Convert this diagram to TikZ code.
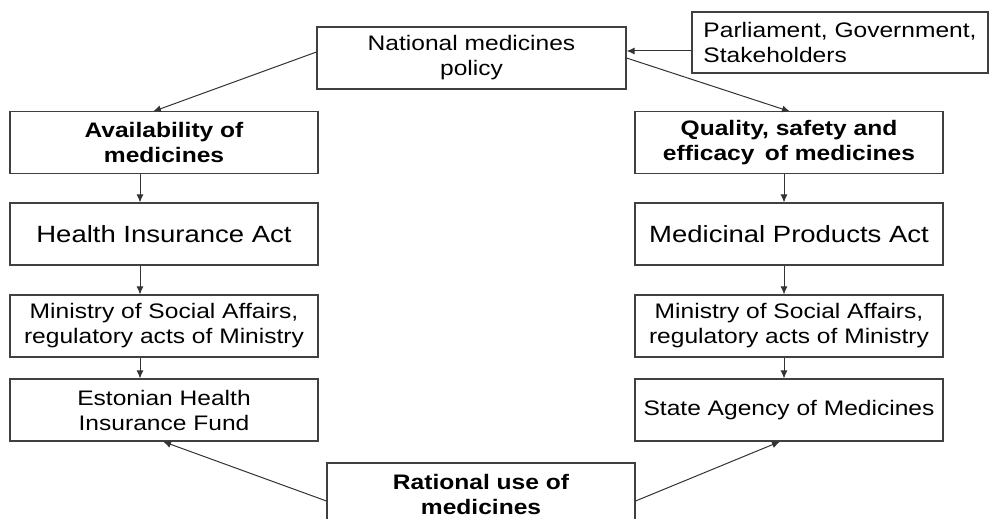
\documentclass[tikz,border=0pt]{standalone}
\usepackage{fontspec}
\setmainfont[FakeStretch=1.17]{Liberation Sans}
\usetikzlibrary{arrows.meta}
\begin{document}
\begin{tikzpicture}[x=1pt,y=-1pt,
  box/.style={draw=black!75, line width=1.1pt, minimum width=308pt, minimum height=62pt,
    inner sep=0pt, align=center, font=\fontsize{21}{25}\selectfont},
  boldbox/.style={box, font=\fontsize{21}{25}\selectfont\bfseries},
  bigbox/.style={box, font=\fontsize{23.5}{27}\selectfont},
  conn/.style={draw=black!80, line width=1pt, -{Latex[length=8pt,width=7pt]}}
]
\useasboundingbox (0,0) rectangle (990,519);
\fill[white] (0,0) rectangle (990,519);

\node[box, minimum width=309pt] (nmp) at (471.5,58) {National medicines\\policy};
\node[box, minimum width=296pt, minimum height=61pt, align=left] (parl) at (840,42.5) {Parliament, Government,\\Stakeholders};

\node[boldbox] (avail) at (164,142.5) {Availability of\\medicines};
\node[bigbox] (hia) at (164,234) {Health Insurance Act};
\node[box] (msal) at (164,326) {Ministry of Social Affairs,\\regulatory acts of Ministry};
\node[box] (ehif) at (164,410) {Estonian Health\\Insurance Fund};

\node[boldbox] (qual) at (789,142.5) {Quality, safety and\\efficacy\, of medicines};
\node[bigbox] (mpa) at (789,234) {Medicinal Products Act};
\node[box] (msar) at (789,326) {Ministry of Social Affairs,\\regulatory acts of Ministry};
\node[box] (sam) at (789,410) {State Agency of Medicines};

\node[boldbox] (rat) at (481,494) {Rational use of\\medicines};

\draw[conn] (parl.west |- 0,51) -- (nmp.east |- 0,51);
\draw[conn] (nmp.west |- 0,52) -- (153,111.5) coordinate (a1);
\draw[conn] (nmp.east |- 0,58) -- (790,111.5) coordinate (a2);

\draw[conn] (avail.south -| 140,0) -- (hia.north -| 140,0);
\draw[conn] (hia.south -| 140,0) -- (msal.north -| 140,0);
\draw[conn] (msal.south -| 140,0) -- (ehif.north -| 140,0);

\draw[conn] (qual.south -| 784,0) -- (mpa.north -| 784,0);
\draw[conn] (mpa.south -| 784,0) -- (msar.north -| 784,0);
\draw[conn] (msar.south -| 784,0) -- (sam.north -| 784,0);

\draw[conn] (rat.west |- 0,501) -- (ehif.south -| 163,0);
\draw[conn] (rat.east |- 0,501) -- (sam.south -| 780,0);
\end{tikzpicture}
\end{document}
